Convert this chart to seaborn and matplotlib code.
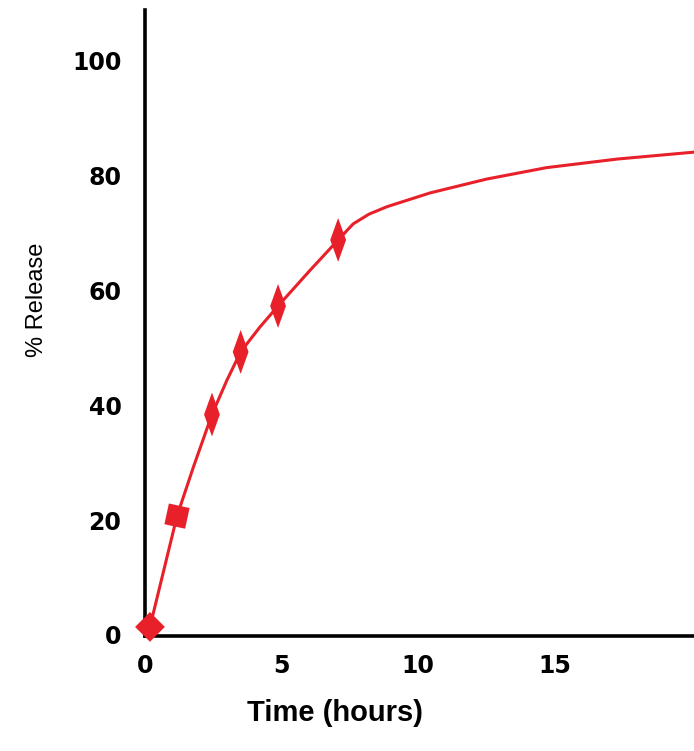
import numpy as np
import pandas as pd
import seaborn as sns
import matplotlib
matplotlib.use("Agg")
import matplotlib.pyplot as plt

# measured release points (hours, % release)
time_pts = [0.18, 1.17, 2.45, 3.5, 4.87, 7.07]
release_pts = [1.4, 20.7, 38.4, 49.3, 57.3, 68.8]
marker_kind = ["round", "square", "tall", "tall", "tall", "tall"]

# release curve traced through the points and beyond
time_curve = [0.18, 1.17, 1.76, 2.45, 3.0, 3.5, 4.2, 4.87, 6.0, 7.07, 7.62, 8.2, 8.86, 10.44, 12.5, 14.7, 17.3, 20.1]
release_curve = [1.4, 20.7, 29.1, 38.4, 44.4, 49.3, 53.6, 57.3, 63.3, 68.8, 71.6, 73.3, 74.6, 77.0, 79.4, 81.4, 82.9, 84.1]

x_ticks = [0, 5, 10, 15]
y_ticks = [0, 20, 40, 60, 80, 100]

red = "#e8202a"

sns.set_style("white")
plt.rcParams["font.family"] = ["Liberation Sans", "DejaVu Sans"]
plt.rcParams["text.color"] = "black"
plt.rcParams["axes.labelcolor"] = "black"
plt.rcParams["xtick.color"] = "black"
plt.rcParams["ytick.color"] = "black"

fig = plt.figure(figsize=(6.94, 7.51), dpi=100)
ax = fig.add_axes([0.209, 0.153, 0.791, 0.834])

curve = pd.DataFrame({"time": time_curve, "release": release_curve})
sns.lineplot(data=curve, x="time", y="release", color=red, linewidth=2.2, ax=ax, sort=False)

pts = pd.DataFrame({"time": time_pts, "release": release_pts, "kind": marker_kind})
tall_diamond = [(0, 1), (0.36, 0), (0, -1), (-0.36, 0), (0, 1)]
square = [(-0.7, -0.45), (0.45, -0.7), (0.7, 0.45), (-0.45, 0.7), (-0.7, -0.45)]
sns.scatterplot(data=pts, x="time", y="release", style="kind", size="kind",
                markers={"round": "D", "square": square, "tall": tall_diamond},
                sizes={"round": 230, "square": 330, "tall": 1000},
                color=red, edgecolor=red, linewidth=0, legend=False, ax=ax, zorder=3,
                clip_on=False)

ax.set_xlim(0, 20.1)
ax.set_ylim(-0.2, 108.9)
ax.set_xticks(x_ticks)
ax.set_yticks(y_ticks)
ax.tick_params(length=0)
ax.tick_params(axis="y", pad=17)
ax.tick_params(axis="x", pad=13)
for lbl in ax.get_xticklabels() + ax.get_yticklabels():
    lbl.set_fontweight("bold")
    lbl.set_fontfamily("DejaVu Sans")
    lbl.set_fontsize(17)

ax.set_xlabel("Time (hours)", fontsize=21, fontweight="bold")
ax.xaxis.set_label_coords(0.346, -0.1)
ax.set_ylabel("% Release", fontsize=17)
ax.yaxis.set_label_coords(-0.177, 0.537)

for side in ["top", "right"]:
    ax.spines[side].set_visible(False)
for side in ["left", "bottom"]:
    ax.spines[side].set_linewidth(2.6)
    ax.spines[side].set_color("black")

fig.savefig("out.png", dpi=100)
